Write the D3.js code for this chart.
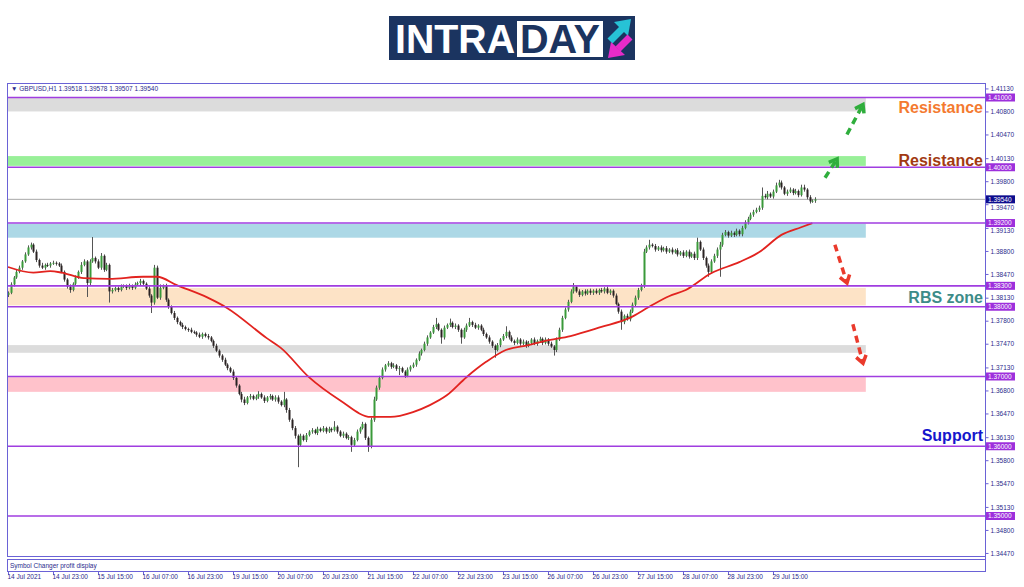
<!DOCTYPE html>
<html>
<head>
<meta charset="utf-8">
<script src="https://cdn.jsdelivr.net/npm/d3@7"></script>
<style>
  body { margin: 0; background: #fff; }
  svg text { font-family: "Liberation Sans", Arial, sans-serif; }
</style>
</head>
<body>
<svg id="chart" width="1024" height="587"></svg>
<script>
// ---- data ----
const symbolLine = "GBPUSD,H1  1.39518 1.39578 1.39507 1.39540";
const firstOpen = 1.3817;
const pip = 0.0001;

// hourly closes, 14 Jul 07:00 -> 30 Jul 06:00
const closes = [
  1.3820,1.3832,1.3842,1.3850,1.3856,1.3865,1.3875,1.3885,1.3889,1.3879,1.3867,1.3859,1.3856,1.3860,1.3859,1.3862,
  1.3863,1.3862,1.3859,1.3850,1.3839,1.3829,1.3824,1.3833,1.3842,1.3850,1.3860,1.3865,1.3834,1.3865,1.3870,1.3865,
  1.3856,1.3873,1.3853,1.3860,1.3822,1.3824,1.3827,1.3824,1.3829,1.3830,1.3827,1.3830,1.3827,1.3832,1.3834,1.3837,
  1.3833,1.3826,1.3816,1.3806,1.3856,1.3813,1.3827,1.3830,1.3810,1.3800,1.3791,1.3784,1.3778,1.3774,1.3771,1.3768,
  1.3767,1.3764,1.3763,1.3760,1.3757,1.3761,1.3758,1.3756,1.3751,1.3744,1.3737,1.3730,1.3724,1.3717,1.3712,1.3707,
  1.3698,1.3687,1.3675,1.3667,1.3662,1.3670,1.3672,1.3668,1.3671,1.3675,1.3670,1.3665,1.3670,1.3672,1.3667,1.3670,
  1.3664,1.3659,1.3667,1.3652,1.3638,1.3626,1.3615,1.3602,1.3615,1.3609,1.3616,1.3621,1.3623,1.3619,1.3625,1.3622,
  1.3626,1.3621,1.3625,1.3623,1.3628,1.3621,1.3615,1.3618,1.3612,1.3613,1.3602,1.3609,1.3621,1.3626,1.3632,1.3612,
  1.3600,1.3638,1.3667,1.3684,1.3698,1.3710,1.3716,1.3719,1.3714,1.3716,1.3711,1.3712,1.3707,1.3701,1.3710,1.3714,
  1.3717,1.3724,1.3733,1.3738,1.3747,1.3756,1.3763,1.3771,1.3775,1.3767,1.3756,1.3770,1.3774,1.3777,1.3771,1.3773,
  1.3767,1.3756,1.3767,1.3773,1.3778,1.3774,1.3770,1.3773,1.3767,1.3761,1.3756,1.3750,1.3744,1.3738,1.3745,1.3753,
  1.3758,1.3764,1.3756,1.3751,1.3748,1.3753,1.3747,1.3750,1.3744,1.3748,1.3753,1.3747,1.3751,1.3754,1.3748,1.3753,
  1.3747,1.3743,1.3738,1.3753,1.3767,1.3784,1.3796,1.3807,1.3822,1.3829,1.3822,1.3817,1.3822,1.3819,1.3823,1.3820,
  1.3823,1.3820,1.3824,1.3822,1.3826,1.3820,1.3823,1.3816,1.3804,1.3793,1.3778,1.3787,1.3782,1.3793,1.3803,1.3813,
  1.3824,1.3830,1.3879,1.3885,1.3889,1.3887,1.3882,1.3885,1.3881,1.3884,1.3879,1.3882,1.3878,1.3881,1.3875,1.3878,
  1.3873,1.3879,1.3872,1.3876,1.3870,1.3893,1.3882,1.3870,1.3859,1.3850,1.3865,1.3873,1.3882,1.3889,1.3903,1.3907,
  1.3902,1.3906,1.3903,1.3909,1.3904,1.3913,1.3921,1.3926,1.3932,1.3936,1.3939,1.3942,1.3959,1.3957,1.3962,1.3958,
  1.3965,1.3974,1.3978,1.3971,1.3962,1.3965,1.3968,1.3963,1.3966,1.3960,1.3971,1.3968,1.3957,1.3951,1.3952,1.3954
];

// upper / lower shadow lengths in pips
const wickUp = [
  2,3,2,4,3,2,3,3,3,2,3,2,4,2,3,2,  3,2,2,3,2,2,3,2,3,2,4,3,2,3,30,2,
  3,4,2,3,2,3,2,2,3,2,2,3,2,3,2,3,  2,2,3,2,4,3,5,2,3,2,2,3,2,2,3,2,
  2,3,2,2,3,2,2,3,2,2,3,2,2,3,2,2,  3,2,2,3,4,2,3,2,3,4,2,3,2,3,2,3,
  3,2,11,2,3,2,3,2,3,2,3,2,3,2,3,2, 3,2,3,2,8,2,2,3,2,3,2,3,3,2,3,2,
  2,3,4,3,3,3,2,3,2,3,2,3,2,2,3,2,  3,2,3,2,3,3,2,3,9,2,2,3,2,6,2,3,
  2,2,3,3,6,2,3,2,2,3,2,3,2,2,3,2,  3,8,2,3,2,3,2,3,2,3,2,3,2,3,2,3,
  2,3,2,3,3,3,3,3,3,5,2,3,2,3,2,3,  2,3,2,3,2,3,2,2,3,2,3,2,3,3,3,3,
  3,3,4,3,7,2,3,2,3,2,3,2,3,2,3,2,  3,2,3,2,3,6,2,3,2,3,3,3,3,4,3,3,
  2,3,2,3,2,3,3,3,3,3,3,3,12,3,4,2, 3,4,4,3,2,3,3,2,3,2,4,4,2,3,2,3
];
const wickDn = [
  3,2,3,2,2,3,2,2,3,2,3,3,2,3,2,3,  2,3,2,2,3,3,4,2,3,2,3,2,20,3,2,3,
  2,3,3,2,16,3,2,3,2,2,3,2,3,2,2,3, 3,2,3,15,3,2,3,2,3,3,2,3,3,2,3,2,
  3,2,2,3,2,3,2,3,2,3,2,3,3,2,3,2,  3,3,2,4,3,2,3,2,2,3,2,3,2,3,2,3,
  3,2,3,4,3,3,4,32,3,2,3,2,3,2,3,2, 2,3,2,3,2,3,2,3,2,3,10,3,2,3,2,3,
  8,3,3,2,3,2,3,2,3,2,3,9,2,3,2,3,  2,3,2,3,2,3,2,2,3,2,9,3,2,3,2,3,
  3,9,2,3,2,3,2,3,2,3,2,3,3,11,2,3, 2,3,3,2,3,2,3,2,3,2,3,2,3,2,3,2,
  3,2,8,3,2,3,2,3,2,3,2,3,2,3,2,3,  3,2,3,2,3,2,3,3,2,3,11,3,2,3,2,3,
  3,2,3,2,3,2,3,2,3,2,3,2,3,2,3,2,  3,2,3,2,3,3,2,3,3,7,3,2,3,39,3,2,
  3,2,3,2,3,3,2,3,2,3,2,3,3,2,3,2,  3,2,3,3,2,3,2,3,2,3,2,3,3,3,2,3
];

// moving average (red line), sampled at bar indexes
const maIndex  = [0,9,15,19,27,36,48,53,60,71,78,92,97,107,118,129,136,144,150,156,163,170,177,185,191,200,211,221,228,235,241,250,260,267,275,282,286];
const maValues = [1.3857,1.3849,1.3851,1.3849,1.3841,1.3840,1.3843,1.3843,1.3831,1.3813,1.3798,1.3755,1.3741,1.3699,1.3666,1.3642,1.3642,1.3649,1.3659,1.3673,1.3699,1.3721,1.3738,1.3745,1.3751,1.3758,1.3771,1.3784,1.3800,1.3815,1.3824,1.3848,1.3864,1.3878,1.3903,1.3914,1.3920];

const xLabels = ["14 Jul 2021","14 Jul 23:00","15 Jul 15:00","16 Jul 07:00","16 Jul 23:00","19 Jul 15:00",
  "20 Jul 07:00","20 Jul 23:00","21 Jul 15:00","22 Jul 07:00","22 Jul 23:00","23 Jul 15:00",
  "26 Jul 07:00","26 Jul 23:00","27 Jul 15:00","28 Jul 07:00","28 Jul 23:00","29 Jul 15:00"];
const labelEvery = 16;

const priceTicks = [1.4113,1.4080,1.4047,1.4013,1.3980,1.3947,1.3913,1.3880,1.3847,1.3813,1.3780,
  1.3747,1.3713,1.3680,1.3647,1.3613,1.3580,1.3547,1.3513,1.3480,1.3447];

const levels = [1.4100,1.4000,1.3920,1.3830,1.3800,1.3700,1.3600,1.3500];
const currentPrice = 1.3954;

const zoneHi = [1.4100,1.4016,1.3919,1.3827,1.3745,1.3699];
const zoneLo = [1.4080,1.4002,1.3899,1.3802,1.3734,1.3678];
const zoneEnd = 305;   // bar index where the boxes stop

// dashed arrows [barFrom, priceFrom, barTo, priceTo]
const upArrows   = [[290.5,1.3985,294.8,1.4012],[298.3,1.4047,304,1.4090]];
const downArrows = [[294,1.3889,298.3,1.3834],[300.4,1.3775,304,1.3719]];

const notes = ["Resistance","Resistance","RBS zone","Support"];
const notePrices = [1.4078,1.4002,1.3805,1.3607];

// ---- styling ----
const zoneColors = ["#dcdcdc","#98f098","#acd8e6","#fde3c6","#dcdcdc","#ffc2cb"];
const noteColors = ["#f47a30","#a23a12","#3d8c88","#1616cc"];
const frameColor = "#6a62d6";
const levelColor = "#a03de0";
const axisText = "#2b2b8c";

const svg = d3.select("#chart");

const x = d3.scaleLinear().domain([0, closes.length]).range([8, 8 + closes.length * 2.8125]);
const y = d3.scaleLinear().domain([1.35, 1.41]).range([516, 97.5]);
const plot = {left: 7, right: 985, top: 83, bottom: 556};

// logo
const logo = svg.append("g");
logo.append("rect").attr("x", 389).attr("y", 16).attr("width", 246).attr("height", 44).attr("fill", "#1b3460");
logo.append("text").attr("x", 395).attr("y", 53).attr("font-size", 41).attr("font-weight", "bold")
  .attr("fill", "#fff").attr("textLength", 120).attr("lengthAdjust", "spacingAndGlyphs").text("INTRA");
logo.append("rect").attr("x", 517).attr("y", 21).attr("width", 86).attr("height", 36).attr("fill", "#fff");
logo.append("text").attr("x", 520).attr("y", 53).attr("font-size", 41).attr("font-weight", "bold")
  .attr("fill", "#1b3460").attr("textLength", 80).attr("lengthAdjust", "spacingAndGlyphs").text("DAY");
logo.append("line").attr("x1", 610).attr("y1", 41).attr("x2", 622).attr("y2", 29)
  .attr("stroke", "#27c2d6").attr("stroke-width", 7);
logo.append("polygon").attr("points", "631,19 614,22 628,36").attr("fill", "#27c2d6");
logo.append("line").attr("x1", 630).attr("y1", 37).attr("x2", 618).attr("y2", 49)
  .attr("stroke", "#e52bc9").attr("stroke-width", 7);
logo.append("polygon").attr("points", "608,58 611,42 625,55").attr("fill", "#e52bc9");

// zones
svg.append("g").selectAll("rect").data(zoneHi).join("rect")
  .attr("x", plot.left + 1)
  .attr("y", d => y(d))
  .attr("width", x(zoneEnd) - plot.left - 1)
  .attr("height", (d, i) => y(zoneLo[i]) - y(d))
  .attr("fill", (d, i) => zoneColors[i]);

// current price line
svg.append("line").attr("x1", plot.left).attr("x2", plot.right)
  .attr("y1", y(currentPrice)).attr("y2", y(currentPrice))
  .attr("stroke", "#a8a8a8").attr("stroke-width", 1);

// candles
const bars = closes.map((c, i) => {
  const o = i === 0 ? firstOpen : closes[i - 1];
  return {i, o, c,
    h: Math.max(o, c) + wickUp[i] * pip,
    l: Math.min(o, c) - wickDn[i] * pip};
});
const candle = svg.append("g").selectAll("g").data(bars).join("g");
candle.append("line")
  .attr("x1", d => Math.round(x(d.i)) + 0.5).attr("x2", d => Math.round(x(d.i)) + 0.5)
  .attr("y1", d => y(d.h)).attr("y2", d => y(d.l))
  .attr("stroke", "#555").attr("stroke-width", 1);
candle.append("rect")
  .attr("x", d => Math.round(x(d.i)) - 0.5)
  .attr("width", 2)
  .attr("y", d => y(Math.max(d.o, d.c)))
  .attr("height", d => Math.max(1, Math.abs(y(d.o) - y(d.c))))
  .attr("fill", d => d.c >= d.o ? "#3a9a3a" : "#2a2222");

// moving average
svg.append("path")
  .datum(maIndex.map((d, k) => [d, maValues[k]]))
  .attr("fill", "none").attr("stroke", "#e2231f").attr("stroke-width", 1.8)
  .attr("d", d3.line().x(d => x(d[0])).y(d => y(d[1])).curve(d3.curveMonotoneX));

// horizontal levels
svg.append("g").selectAll("line").data(levels).join("line")
  .attr("x1", plot.left).attr("x2", plot.right)
  .attr("y1", d => y(d)).attr("y2", d => y(d))
  .attr("stroke", levelColor).attr("stroke-width", 1.6);

// dashed arrows
function drawArrow(a, color) {
  const x1 = x(a[0]), y1 = y(a[1]), x2 = x(a[2]), y2 = y(a[3]);
  const ang = Math.atan2(y2 - y1, x2 - x1);
  svg.append("line").attr("x1", x1).attr("y1", y1).attr("x2", x2).attr("y2", y2)
    .attr("stroke", color).attr("stroke-width", 3.5).attr("stroke-dasharray", "7,5");
  const len = 9, spread = 0.6;
  const pts = [
    [x2 - len * Math.cos(ang - spread), y2 - len * Math.sin(ang - spread)],
    [x2, y2],
    [x2 - len * Math.cos(ang + spread), y2 - len * Math.sin(ang + spread)]
  ];
  svg.append("polyline").attr("points", pts.map(p => p.join(",")).join(" "))
    .attr("fill", "none").attr("stroke", color).attr("stroke-width", 3.5)
    .attr("stroke-linejoin", "miter");
}
upArrows.forEach(a => drawArrow(a, "#2fae3c"));
downArrows.forEach(a => drawArrow(a, "#ea3a2c"));

// notes
svg.append("g").selectAll("text").data(notes).join("text")
  .attr("x", 983).attr("y", (d, i) => y(notePrices[i]))
  .attr("text-anchor", "end").attr("font-size", 16).attr("font-weight", "bold")
  .attr("fill", (d, i) => noteColors[i]).text(d => d);

// frame
const frame = svg.append("g").attr("fill", "none").attr("stroke", frameColor).attr("stroke-width", 1);
frame.append("rect").attr("x", plot.left + 0.5).attr("y", plot.top + 0.5)
  .attr("width", plot.right - plot.left).attr("height", plot.bottom - plot.top);
frame.append("rect").attr("x", plot.left + 0.5).attr("y", 559.5)
  .attr("width", plot.right - plot.left).attr("height", 12);

svg.append("text").attr("x", 11).attr("y", 91).attr("font-size", 6.5).attr("fill", axisText)
  .text("\u25BC " + symbolLine);
svg.append("text").attr("x", 10).attr("y", 568).attr("font-size", 6.5).attr("fill", axisText)
  .text("Symbol Changer profit display");

// price axis
const yAxis = svg.append("g").attr("transform", `translate(${plot.right + 0.5},0)`)
  .call(d3.axisRight(y).tickValues(priceTicks).tickFormat(d3.format(".5f")).tickSize(3).tickPadding(2));
yAxis.select(".domain").remove();
yAxis.selectAll("line").attr("stroke", frameColor);
yAxis.selectAll("text").attr("font-size", 6.5).attr("fill", axisText)
  .attr("font-family", "Liberation Sans, Arial, sans-serif");
// labels that sit right under a level tag are nudged clear of it
yAxis.selectAll(".tick text")
  .attr("dy", d => {
    const near = levels.concat([currentPrice]).some(v => v > d && Math.abs(y(v) - y(d)) < 6);
    return near ? "0.75em" : "0.32em";
  });

// level tags on the axis
const tags = svg.append("g");
levels.forEach(v => {
  tags.append("rect").attr("x", plot.right + 1).attr("y", y(v) - 4).attr("width", 29).attr("height", 8)
    .attr("fill", "#9d2fdc");
  tags.append("text").attr("x", plot.right + 3).attr("y", y(v) + 2.3).attr("font-size", 6.5)
    .attr("fill", "#fff").text(d3.format(".5f")(v));
});
tags.append("rect").attr("x", plot.right + 1).attr("y", y(currentPrice) - 4).attr("width", 29).attr("height", 8)
  .attr("fill", "#0d0d8e");
tags.append("text").attr("x", plot.right + 3).attr("y", y(currentPrice) + 2.3).attr("font-size", 6.5)
  .attr("fill", "#fff").text(d3.format(".5f")(currentPrice));

// time axis
const xAxis = svg.append("g").attr("transform", "translate(0,572)")
  .call(d3.axisBottom(x).tickValues(d3.range(0, closes.length, labelEvery))
    .tickFormat((d, k) => xLabels[k]).tickSize(3));
xAxis.select(".domain").remove();
xAxis.selectAll("line").attr("stroke", frameColor);
xAxis.selectAll("text").attr("font-size", 6.5).attr("fill", axisText).attr("text-anchor", "start")
  .attr("x", -1).attr("y", 2).attr("dy", "0.75em").attr("font-family", "Liberation Sans, Arial, sans-serif");

// right border down to the bottom of the sub window
svg.append("line").attr("x1", plot.right + 0.5).attr("x2", plot.right + 0.5)
  .attr("y1", plot.top).attr("y2", 572).attr("stroke", frameColor);
</script>
</body>
</html>
